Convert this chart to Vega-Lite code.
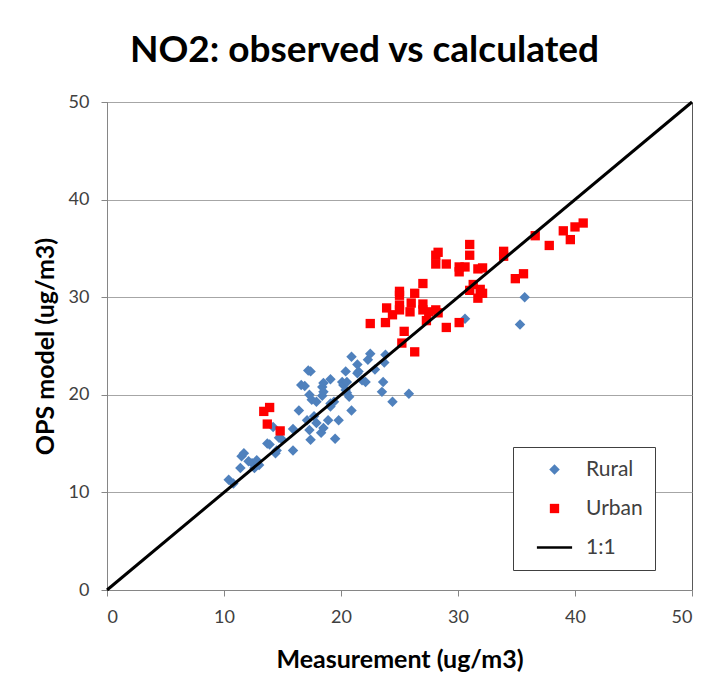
{
  "$schema": "https://vega.github.io/schema/vega-lite/v6.json",
  "autosize": "none",
  "width": 585,
  "height": 488,
  "padding": {"left": 107, "top": 102, "right": 11, "bottom": 108},
  "background": "white",
  "title": {
    "text": "NO2: observed vs calculated",
    "font": "Lato",
    "fontSize": 37,
    "fontWeight": "bold",
    "color": "#000000",
    "anchor": "middle",
    "dx": -35,
    "offset": 23
  },
  "config": {
    "view": {"stroke": "#595959", "strokeWidth": 1},
    "axis": {
      "labelFont": "Lato",
      "labelFontSize": 18,
      "labelColor": "#404040",
      "titleFont": "Lato",
      "titleFontSize": 25,
      "titleFontWeight": "bold",
      "titleColor": "#000000",
      "domainColor": "#868686",
      "tickColor": "#868686",
      "tickSize": 6,
      "gridColor": "#a6a6a6"
    }
  },
  "datasets": {
    "pts": [
      {"series": "Rural", "meas": 10.4, "model": 11.3},
      {"series": "Rural", "meas": 10.8, "model": 10.9},
      {"series": "Rural", "meas": 11.4, "model": 12.5},
      {"series": "Rural", "meas": 11.5, "model": 13.7},
      {"series": "Rural", "meas": 11.7, "model": 14.0},
      {"series": "Rural", "meas": 12.1, "model": 13.2},
      {"series": "Rural", "meas": 12.4, "model": 13.0},
      {"series": "Rural", "meas": 12.8, "model": 13.3},
      {"series": "Rural", "meas": 13.0, "model": 12.8},
      {"series": "Rural", "meas": 12.6, "model": 12.5},
      {"series": "Rural", "meas": 13.7, "model": 15.0},
      {"series": "Rural", "meas": 13.9, "model": 14.9},
      {"series": "Rural", "meas": 14.2, "model": 16.7},
      {"series": "Rural", "meas": 14.4, "model": 14.0},
      {"series": "Rural", "meas": 14.5, "model": 14.3},
      {"series": "Rural", "meas": 14.7, "model": 15.6},
      {"series": "Rural", "meas": 14.9, "model": 15.5},
      {"series": "Rural", "meas": 15.9, "model": 16.5},
      {"series": "Rural", "meas": 15.9, "model": 14.3},
      {"series": "Rural", "meas": 16.4, "model": 18.4},
      {"series": "Rural", "meas": 16.6, "model": 21.0},
      {"series": "Rural", "meas": 16.9, "model": 20.9},
      {"series": "Rural", "meas": 17.1, "model": 17.4},
      {"series": "Rural", "meas": 17.2, "model": 22.5},
      {"series": "Rural", "meas": 17.4, "model": 22.4},
      {"series": "Rural", "meas": 17.3, "model": 20.0},
      {"series": "Rural", "meas": 17.3, "model": 16.4},
      {"series": "Rural", "meas": 17.4, "model": 15.4},
      {"series": "Rural", "meas": 17.5, "model": 19.5},
      {"series": "Rural", "meas": 17.7, "model": 17.8},
      {"series": "Rural", "meas": 17.9, "model": 17.1},
      {"series": "Rural", "meas": 17.9, "model": 19.3},
      {"series": "Rural", "meas": 18.3, "model": 16.1},
      {"series": "Rural", "meas": 18.4, "model": 20.8},
      {"series": "Rural", "meas": 18.4, "model": 19.9},
      {"series": "Rural", "meas": 18.5, "model": 21.2},
      {"series": "Rural", "meas": 18.5, "model": 20.3},
      {"series": "Rural", "meas": 18.5, "model": 16.6},
      {"series": "Rural", "meas": 18.9, "model": 17.4},
      {"series": "Rural", "meas": 19.1, "model": 21.6},
      {"series": "Rural", "meas": 19.1, "model": 19.1},
      {"series": "Rural", "meas": 19.1, "model": 18.8},
      {"series": "Rural", "meas": 19.4, "model": 19.3},
      {"series": "Rural", "meas": 19.5, "model": 15.5},
      {"series": "Rural", "meas": 19.8, "model": 17.4},
      {"series": "Rural", "meas": 20.1, "model": 21.3},
      {"series": "Rural", "meas": 20.2, "model": 21.0},
      {"series": "Rural", "meas": 20.4, "model": 22.4},
      {"series": "Rural", "meas": 20.4, "model": 20.5},
      {"series": "Rural", "meas": 20.5, "model": 21.3},
      {"series": "Rural", "meas": 20.5, "model": 20.2},
      {"series": "Rural", "meas": 20.7, "model": 19.8},
      {"series": "Rural", "meas": 20.9, "model": 23.9},
      {"series": "Rural", "meas": 20.9, "model": 18.4},
      {"series": "Rural", "meas": 21.4, "model": 23.1},
      {"series": "Rural", "meas": 21.4, "model": 22.2},
      {"series": "Rural", "meas": 21.5, "model": 22.4},
      {"series": "Rural", "meas": 21.8, "model": 21.5},
      {"series": "Rural", "meas": 22.1, "model": 21.3},
      {"series": "Rural", "meas": 22.3, "model": 23.6},
      {"series": "Rural", "meas": 22.5, "model": 24.2},
      {"series": "Rural", "meas": 22.9, "model": 22.6},
      {"series": "Rural", "meas": 23.5, "model": 20.3},
      {"series": "Rural", "meas": 23.6, "model": 21.3},
      {"series": "Rural", "meas": 23.7, "model": 23.3},
      {"series": "Rural", "meas": 23.8, "model": 24.1},
      {"series": "Rural", "meas": 24.4, "model": 19.3},
      {"series": "Rural", "meas": 25.8, "model": 20.1},
      {"series": "Rural", "meas": 30.6, "model": 27.8},
      {"series": "Rural", "meas": 35.3, "model": 27.2},
      {"series": "Rural", "meas": 35.7, "model": 30.0},
      {"series": "Urban", "meas": 13.4, "model": 18.3},
      {"series": "Urban", "meas": 13.9, "model": 18.7},
      {"series": "Urban", "meas": 13.7, "model": 17.0},
      {"series": "Urban", "meas": 14.8, "model": 16.3},
      {"series": "Urban", "meas": 22.5, "model": 27.3},
      {"series": "Urban", "meas": 23.8, "model": 27.4},
      {"series": "Urban", "meas": 23.9, "model": 28.9},
      {"series": "Urban", "meas": 24.4, "model": 28.2},
      {"series": "Urban", "meas": 25.0, "model": 30.6},
      {"series": "Urban", "meas": 25.0, "model": 30.2},
      {"series": "Urban", "meas": 25.0, "model": 29.2},
      {"series": "Urban", "meas": 25.0, "model": 28.7},
      {"series": "Urban", "meas": 25.2, "model": 25.3},
      {"series": "Urban", "meas": 25.4, "model": 26.5},
      {"series": "Urban", "meas": 25.9, "model": 28.5},
      {"series": "Urban", "meas": 26.0, "model": 29.4},
      {"series": "Urban", "meas": 26.3, "model": 30.4},
      {"series": "Urban", "meas": 26.3, "model": 24.4},
      {"series": "Urban", "meas": 27.0, "model": 31.4},
      {"series": "Urban", "meas": 27.0, "model": 29.3},
      {"series": "Urban", "meas": 27.0, "model": 28.7},
      {"series": "Urban", "meas": 27.3, "model": 27.6},
      {"series": "Urban", "meas": 27.5, "model": 28.5},
      {"series": "Urban", "meas": 28.1, "model": 28.7},
      {"series": "Urban", "meas": 28.3, "model": 28.4},
      {"series": "Urban", "meas": 28.1, "model": 33.4},
      {"series": "Urban", "meas": 28.3, "model": 34.6},
      {"series": "Urban", "meas": 28.1, "model": 34.3},
      {"series": "Urban", "meas": 29.0, "model": 33.4},
      {"series": "Urban", "meas": 29.0, "model": 26.9},
      {"series": "Urban", "meas": 30.1, "model": 33.1},
      {"series": "Urban", "meas": 30.6, "model": 33.1},
      {"series": "Urban", "meas": 30.1, "model": 32.6},
      {"series": "Urban", "meas": 30.1, "model": 27.4},
      {"series": "Urban", "meas": 31.0, "model": 35.4},
      {"series": "Urban", "meas": 31.0, "model": 34.3},
      {"series": "Urban", "meas": 31.7, "model": 32.9},
      {"series": "Urban", "meas": 32.1, "model": 33.0},
      {"series": "Urban", "meas": 31.3, "model": 31.3},
      {"series": "Urban", "meas": 31.0, "model": 30.7},
      {"series": "Urban", "meas": 31.9, "model": 30.8},
      {"series": "Urban", "meas": 32.1, "model": 30.4},
      {"series": "Urban", "meas": 31.7, "model": 29.9},
      {"series": "Urban", "meas": 33.9, "model": 34.7},
      {"series": "Urban", "meas": 33.9, "model": 34.2},
      {"series": "Urban", "meas": 34.9, "model": 31.9},
      {"series": "Urban", "meas": 35.6, "model": 32.4},
      {"series": "Urban", "meas": 36.6, "model": 36.3},
      {"series": "Urban", "meas": 37.8, "model": 35.3},
      {"series": "Urban", "meas": 39.0, "model": 36.8},
      {"series": "Urban", "meas": 39.6, "model": 35.9},
      {"series": "Urban", "meas": 40.0, "model": 37.2},
      {"series": "Urban", "meas": 40.7, "model": 37.6}
    ],
    "oneone": [
      {"series": "1:1", "meas": 0, "model": 0},
      {"series": "1:1", "meas": 50, "model": 50}
    ]
  },
  "layer": [
    {
      "data": {"name": "pts"},
      "mark": {"type": "point", "filled": true, "opacity": 1, "strokeWidth": 0},
      "encoding": {
        "x": {
          "field": "meas", "type": "quantitative",
          "scale": {"domain": [0, 50], "nice": false},
          "axis": {"values": [0, 10, 20, 30, 40, 50], "grid": false, "title": "Measurement (ug/m3)", "labelPadding": 12, "titlePadding": 21}
        },
        "y": {
          "field": "model", "type": "quantitative",
          "scale": {"domain": [0, 50], "nice": false},
          "axis": {"values": [0, 10, 20, 30, 40, 50], "grid": true, "title": "OPS model (ug/m3)", "labelPadding": 12, "titlePadding": 10}
        },
        "color": {
          "field": "series", "type": "nominal",
          "scale": {"domain": ["Rural", "Urban", "1:1"], "range": ["#4F81BD", "#FF0000", "#000000"]},
          "legend": {
            "title": null,
            "orient": "none",
            "legendX": 406,
            "legendY": 345,
            "padding": 12,
            "symbolOffset": 19,
            "strokeColor": "#404040",
            "fillColor": "#ffffff",
            "labelFont": "Lato",
            "labelFontSize": 21,
            "labelColor": "#404040",
            "labelOffset": 21,
            "labelExpr": "datum.label + '\u00a0\u00a0'",
            "rowPadding": 17,
            "symbolStrokeWidth": 0
          }
        },
        "shape": {
          "field": "series", "type": "nominal",
          "scale": {"domain": ["Rural", "Urban", "1:1"], "range": ["diamond", "square", "M-4.4,-0.3L4.4,-0.3L4.4,0.3L-4.4,0.3Z"]}
        },
        "size": {
          "field": "series", "type": "nominal",
          "scale": {"domain": ["Rural", "Urban", "1:1"], "range": [110, 64, 100]},
          "legend": null
        }
      }
    },
    {
      "data": {"name": "oneone"},
      "mark": {"type": "line", "strokeWidth": 3},
      "encoding": {
        "x": {"field": "meas", "type": "quantitative"},
        "y": {"field": "model", "type": "quantitative"},
        "color": {"field": "series", "type": "nominal"}
      }
    }
  ]
}
